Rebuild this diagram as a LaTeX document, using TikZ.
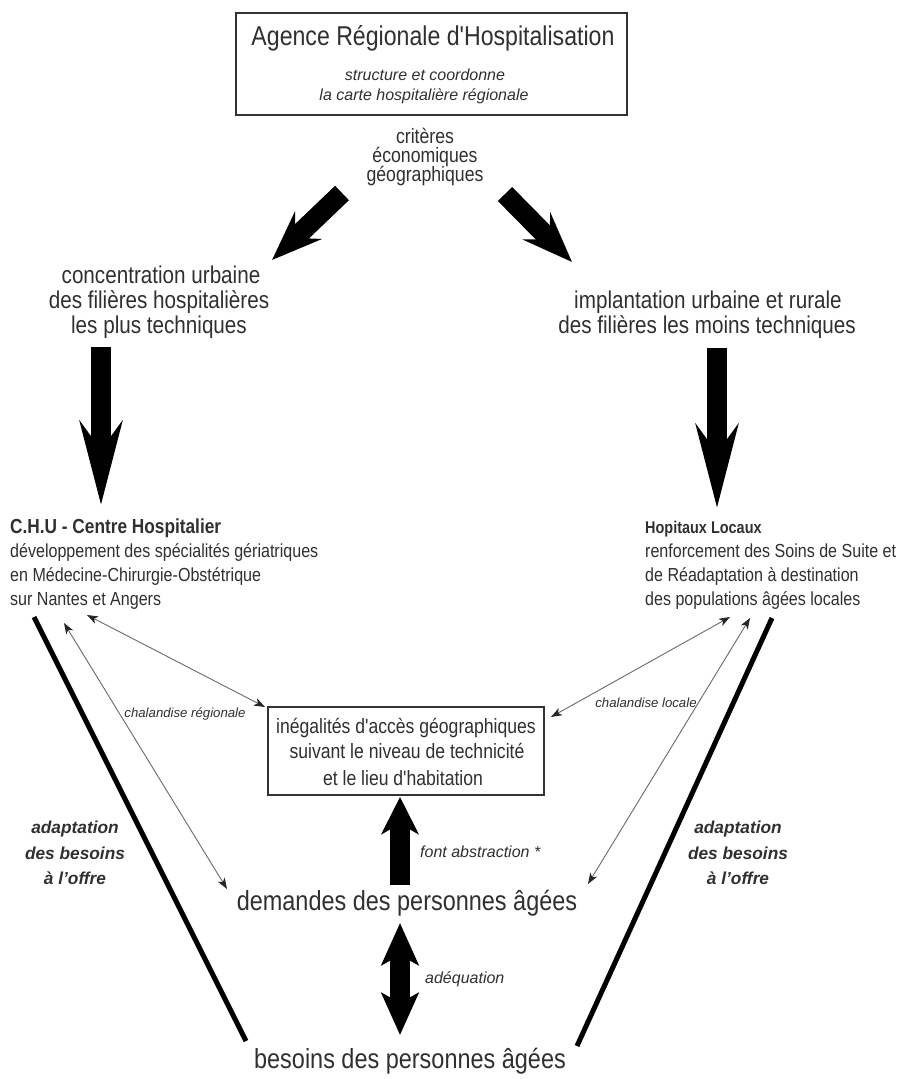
\documentclass[tikz,border=0pt]{standalone}
\usepackage{fontspec}
\setmainfont{Liberation Sans}
\newfontfamily\cnd{Liberation Sans}[FakeStretch=0.85]
\usetikzlibrary{arrows.meta}
\definecolor{txt}{HTML}{303030}
\definecolor{thinc}{HTML}{6A6A6A}
\begin{document}
\begin{tikzpicture}[x=1pt,y=-1pt,
  lbl/.style={anchor=base, inner sep=0pt, text=txt},
  title/.style={lbl, font=\cnd\fontsize{27.2}{30}\selectfont},
  huge/.style={lbl, font=\cnd\fontsize{27.6}{30}\selectfont},
  mid/.style={lbl, font=\cnd\fontsize{24.3}{26}\selectfont},
  crit/.style={lbl, font=\cnd\fontsize{20.8}{22}\selectfont},
  boxt/.style={lbl, font=\cnd\fontsize{20.7}{22}\selectfont},
  body/.style={lbl, anchor=base west, font=\cnd\fontsize{18.9}{22}\selectfont},
  small/.style={lbl, font=\itshape\fontsize{16}{18}\selectfont},
  tiny/.style={lbl, font=\itshape\fontsize{13.2}{15}\selectfont},
  adapt/.style={lbl, font=\bfseries\itshape\fontsize{17.3}{20}\selectfont},
  frame/.style={draw=black!80, line width=2pt, inner sep=0pt},
  blk/.style={line width=20pt, draw=black},
  heavy/.style={line width=5pt, draw=black},
  thinarr/.style={draw=thinc, line width=0.9pt, {Stealth[length=11pt,width=8pt,inset=3pt,color=black!85]}-{Stealth[length=11pt,width=8pt,inset=3pt,color=black!85]}},
]
\useasboundingbox[fill=white] (0,0) rectangle (897,1079);

% top box
\node[frame, minimum width=391pt, minimum height=102pt] (ara) at (431.5,64) {};
\node[title] (t1) at (433,45) {Agence Régionale d'Hospitalisation};
\node[small] (t2) at (425,80) {structure et coordonne};
\node[small] (t3) at (424,100) {la carte hospitalière régionale};

% criteres
\node[crit] (c1) at (425,143) {critères};
\node[crit] (c2) at (425,162) {économiques};
\node[crit] (c3) at (425,181) {géographiques};

% diagonal block arrows
\coordinate (dLs) at (342,193);
\coordinate (dLe) at (272,260);
\coordinate (dRs) at (505,194);
\coordinate (dRe) at (572,262);
\draw[blk, -{Stealth[length=50pt,width=38pt,inset=18pt]}] (dLs) -- (dLe);
\draw[blk, -{Stealth[length=50pt,width=38pt,inset=18pt]}] (dRs) -- (dRe);

% second level texts
\node[mid] (l1) at (161,283) {concentration urbaine};
\node[mid] (l2) at (159,308) {des filières hospitalières};
\node[mid] (l3) at (159,333) {les plus techniques};
\node[mid] (r1) at (708,308) {implantation urbaine et rurale};
\node[mid] (r2) at (707,333) {des filières les moins techniques};

% vertical block arrows
\coordinate (vLs) at (101,347);
\coordinate (vLe) at (101,505);
\coordinate (vRs) at (717,348);
\coordinate (vRe) at (717,508);
\draw[blk, -{Stealth[length=83pt,width=42pt,inset=28pt]}] (vLs) -- (vLe);
\draw[blk, -{Stealth[length=83pt,width=42pt,inset=28pt]}] (vRs) -- (vRe);

% CHU
\node[body, font=\cnd\bfseries\fontsize{20.3}{22}\selectfont] (chu0) at (10,533) {C.H.U - Centre Hospitalier};
\node[body] (chu1) at (10,557) {développement des spécialités gériatriques};
\node[body] (chu2) at (10,581) {en Médecine-Chirurgie-Obstétrique};
\node[body] (chu3) at (10,605) {sur Nantes et Angers};

% Hopitaux locaux
\node[body, font=\cnd\bfseries\fontsize{17}{22}\selectfont] (hl0) at (645,533) {Hopitaux Locaux};
\node[body] (hl1) at (645,557) {renforcement des Soins de Suite et};
\node[body] (hl2) at (645,581) {de Réadaptation à destination};
\node[body] (hl3) at (645,605) {des populations âgées locales};

% heavy side lines
\coordinate (sLt) at (34,617);
\coordinate (sLb) at (246,1041);
\coordinate (sRt) at (772,618);
\coordinate (sRb) at (577,1046);
\draw[heavy] (sLt) -- (sLb);
\draw[heavy] (sRt) -- (sRb);

% middle box
\node[frame, minimum width=276pt, minimum height=88pt] (ineg) at (406,751) {};
\node[boxt] (i1) at (406,733) {inégalités d'accès géographiques};
\node[boxt] (i2) at (407,758) {suivant le niveau de technicité};
\node[boxt] (i3) at (403,785) {et le lieu d'habitation};

% demandes / besoins
\node[huge] (dem) at (407,910) {demandes des personnes âgées};
\node[huge] (bes) at (410,1068) {besoins des personnes âgées};

% thin arrows
\coordinate (c1a) at (87,615);
\coordinate (c1b) at (265,707);
\coordinate (c2a) at (64,623);
\coordinate (c2b) at (227,889);
\coordinate (h1a) at (730,617);
\coordinate (h1b) at (551,717);
\coordinate (h2a) at (750,618);
\coordinate (h2b) at (588,884);
\draw[thinarr] (c1a) -- (c1b);
\draw[thinarr] (c2a) -- (c2b);
\draw[thinarr] (h1a) -- (h1b);
\draw[thinarr] (h2a) -- (h2b);

\node[tiny] (chr) at (185,717) {chalandise régionale};
\node[tiny] (chl) at (646,707) {chalandise locale};

% up arrow and double arrow
\coordinate (uS) at (400,885);
\coordinate (uE) at (400,797);
\draw[blk, -{Stealth[length=37pt,width=37pt,inset=10pt]}] (uS) -- (uE);
\coordinate (dA) at (400,923);
\coordinate (dB) at (400,1035);
\draw[blk, {Stealth[length=42pt,width=37pt,inset=10pt]}-{Stealth[length=42pt,width=37pt,inset=10pt]}] (dA) -- (dB);

\node[small, anchor=base west] (fa) at (420,857) {font abstraction *};
\node[small, anchor=base west] (adq) at (425,983) {adéquation};

% adaptation labels
\node[adapt] (aL1) at (75,833) {adaptation};
\node[adapt] (aL2) at (75,859) {des besoins};
\node[adapt] (aL3) at (75,884) {à l'offre};
\node[adapt] (aR1) at (738,833) {adaptation};
\node[adapt] (aR2) at (738,859) {des besoins};
\node[adapt] (aR3) at (738,884) {à l'offre};
\end{tikzpicture}
\end{document}
